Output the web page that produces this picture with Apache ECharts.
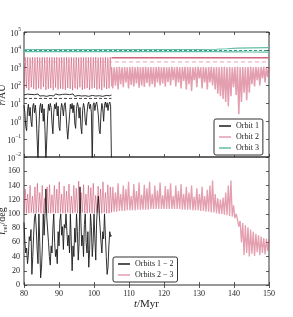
<!DOCTYPE html>
<html><head><meta charset="utf-8">
<script src="https://cdn.jsdelivr.net/npm/echarts@6/dist/echarts.min.js"></script>
<style>html,body{margin:0;padding:0;background:#fff}#c{width:293px;height:317px}</style>
</head><body><div id="c"></div>
<script>
// ---------------- DATA ----------------
const xTicks = [80, 90, 100, 110, 120, 130, 140, 150];
const iTicks = [0, 20, 40, 60, 80, 100, 120, 140, 160];

// Orbit 1 (black), 80–105 Myr
const o1PeriT0 = 80, o1PeriDt = 0.25;
const o1Peri = [8,3,0.5,0.3,4,9,2,6,1,0.5,
 7,10,3,8,2,0.1,0.006,0.4,6,10,
 3,9,1,5,0.3,0.005,0.006,2,9,4,
 10,6,0.8,0.2,3,9,5,11,2,7,
 0.5,0.3,4,10,6,2,8,11,3,0.4,
 0.1,0.08,2,9,5,10,3,8,0.8,0.4,
 5,11,7,1.5,6,0.5,0.2,4,10,6,
 1,0.6,3,9,12,5,9,3,0.004,8,
 11,4,9,12,6,2,0.3,0.2,3,10,
 5,1,8,12,6,11,4,9,12,7,
 0.004];
const o1ApoT0 = 80, o1ApoDt = 0.5;
const o1Apo = [30,26,33,27,32,25,31,28,34,26, 30,27,33,25,31,28,32,26,34,27,
 30,25,32,28,33,26,31,27,34,25, 30,28,32,26,33,27,31,25,32,28,
 34,26,30,27,33,25,31,28,32,27, 30];
const o1SemiT = [80, 105];
const o1Semi = [19, 19];

// Orbit 2 (pink)
const earlyT0 = 80, earlyT1 = 105, earlyCycles = 36;
const o2EarlyLow = [60,75,55,80,65,58,70,62,85,57, 66,72,55,78,60,68,63,58,74,66,
 55,70,62,80,58,65,72,57,68,75, 60,66,56,78,64,70,90];
const o2EarlyHigh = [3800,3900,3750,3850,3800,3900,3700,3850,3800,3900,
 3750,3850,3800,3900,3700,3850,3800,3900,3750,3850,
 3800,3900,3700,3850,3800,3900,3750,3850,3800,3900,
 3700,3850,3800,3900,3750,3850];
const lateT0 = 105, lateT1 = 150, lateCycles = 60;
const o2LateHigh = [1100,1050,1080,1130,1060,1100,1040,1090,1120,1070,
 1110,1040,1080,1120,1050,1100,1060,1090,1130,1070,
 1100,1050,1070,1120,1060,1110,1040,1090,1120,1080,
 1100,1060,1080,1110,1050,1100,1040,1090,1120,1070,
 1090,1050,1080,1120,1060,1100,1040,1080,1120,1070,
 1100,1060,1080,1130,1060,1100,1050,1090,1120,1070, 1100];
const o2LateLow = [70,100,60,120,80,150,70,110,90,130,
 75,100,85,140,90,120,80,150,100,130,
 90,160,100,200,90,150,70,180,60,120,
 50,200,80,250,70,150,60,150,100,60,
 35,25,18,12,7,25,80,30,2.5,12,
 40,15,40,120,90,200,100,250,150,300];
const o2ApoT = [105, 150];
const o2Apo = [3600, 3600];
const o2SemiT = [80, 150];
const o2Semi = [2100, 2100];

// Orbit 3 (teal)
const o3T = [80, 130, 135, 138, 141, 145, 150];
const o3Upper = [10500, 10500, 10800, 11500, 12500, 13000, 13500];
const o3Lower = [8000, 8000, 7900, 7800, 7700, 7600, 7500];
const o3Semi = [9200, 9200, 9200, 9200, 9200, 9200, 9200];

// Bottom: relative inclinations
const i12T0 = 80, i12Dt = 0.25;
const i12 = [88,60,45,52,30,42,68,62,78,15,
 40,70,95,100,80,50,30,100,60,10,
 25,55,100,70,100,135,95,96,60,40,
 28,55,45,80,100,60,40,50,30,75,
 55,90,100,70,82,50,85,80,100,75,
 55,70,45,100,62,20,55,40,80,60,
 100,75,35,60,138,90,55,70,40,85,
 100,60,45,75,25,50,100,82,40,60,
 100,65,35,90,110,125,100,80,60,45,
 75,65,100,70,40,15,25,55,75,68,
 70];
const i23EarlyLow = [102,101,101,102,101,101,102,101,101,102, 101,101,102,101,101,102,101,101,102,101,
 101,102,101,101,102,101,101,102,101,101, 102,101,101,102,101,101,103];
const i23EarlyPeak = [135,128,140,125,138,143,130,140,122,138, 141,127,140,135,145,128,139,132,142,125,
 140,136,146,130,141,128,140,137,143,126, 139,135,145,130,141,138];
const i23LateBase = [102,103,103,104,104,104,105,105,105,105,
 106,106,106,106,106,107,107,107,107,107,
 107,107,107,107,107,107,107,106,106,106,
 106,105,105,105,104,104,103,103,102,102,
 101,100,100,99,98,97,96,94,92,90,
 87,84,81,78,75,72,70,68,66,65, 64];
const i23LateSpike = [138,130,143,128,140,135,145,125,142,132,
 144,127,141,136,145,128,140,133,144,126,
 139,135,143,125,140,132,142,128,138,130,
 140,124,136,128,138,125,134,140,147,128,
 122,120,123,130,140,147,112,100,82,60,
 42,45,40,44,41,46,42,45,43,48];

// ---------------- BUILD ----------------
function grid(t0, dt, vals) { return vals.map((v, i) => [t0 + i * dt, v]); }
function pairs(ts, vals) { return vals.map((v, i) => [ts[i], v]); }
function zigzag(t0, t1, n, base, spikes) {
  const p = (t1 - t0) / n, out = [];
  for (let k = 0; k < base.length; k++) {
    out.push([t0 + k * p, base[k]]);
    if (k < spikes.length) out.push([t0 + (k + 0.5) * p, spikes[k]]);
  }
  return out;
}

const BLACK = '#1b1b1b';
const PINK = 'rgba(204,78,110,0.55)';
const PINK_SOLID = '#d3637f';
const PINK_DASH = '#eba2b3';
const TEAL = '#62bea7';
const TEAL_DARK = '#2f9c82';
const FONT = 'Liberation Serif';

function line(name, data, color, width, xi, yi, extra) {
  return Object.assign({
    name, type: 'line', data, showSymbol: false, symbol: 'none', xAxisIndex: xi, yAxisIndex: yi,
    lineStyle: { color, width }, itemStyle: { color }, clip: true, animation: false, silent: true
  }, extra || {});
}

const sup = v => { const e = Math.round(Math.log10(v)); return '{b|10}{s|' + (e < 0 ? '\u2212' + (-e) : e) + '}'; };
const labelBase = { color: '#222', fontSize: 8, fontFamily: FONT };
const supRich = { b: { fontSize: 8, fontFamily: FONT, color: '#222', lineHeight: 11, verticalAlign: 'bottom' },
  s: { fontSize: 5.5, fontFamily: FONT, color: '#222', lineHeight: 11, verticalAlign: 'top' } };
const tick = { show: true, inside: true, length: 3, lineStyle: { color: '#333', width: 0.8 } };

const gTop = { left: 24, top: 32, width: 245, height: 125, show: true, borderColor: '#333', borderWidth: 1,
  containLabel: false, outerBoundsMode: 'none' };
const gBot = { left: 24, top: 157, width: 245, height: 128, show: true, borderColor: '#333', borderWidth: 1,
  containLabel: false, outerBoundsMode: 'none' };

const xBase = (gi, pos, showLabel) => ({
  type: 'value', gridIndex: gi, position: pos, min: 80, max: 150, interval: 10,
  axisLine: { show: false }, axisTick: tick, splitLine: { show: false },
  axisLabel: Object.assign({ show: showLabel, margin: 5 }, labelBase)
});

const nameRich = {
  i: { fontSize: 10, fontStyle: 'italic', fontFamily: FONT, fill: '#222', color: '#222', verticalAlign: 'top', lineHeight: 12 },
  s: { fontSize: 7, fontFamily: FONT, fill: '#222', color: '#222', verticalAlign: 'bottom', lineHeight: 12 },
  n: { fontSize: 10, fontFamily: FONT, fill: '#222', color: '#222', verticalAlign: 'top', lineHeight: 12 }
};

const option = {
  animation: false,
  backgroundColor: '#fff',
  grid: [gTop, gBot],
  graphic: [
    { type: 'text', x: 3, y: 95, rotation: Math.PI / 2, silent: true,
      style: { text: '{i|r}{n|/AU}', rich: nameRich, align: 'center', verticalAlign: 'middle' } },
    { type: 'text', x: 3, y: 221, rotation: Math.PI / 2, silent: true,
      style: { text: '{i|i}{s|rel}{n|/deg}', rich: nameRich, align: 'center', verticalAlign: 'middle' } }
  ],
  xAxis: [
    xBase(0, 'bottom', false),
    xBase(0, 'top', false),
    Object.assign(xBase(1, 'bottom', true), {
      name: '{i|t}{n|/Myr}', nameLocation: 'middle', nameGap: 10,
      nameTextStyle: { rich: { i: { fontSize: 11, fontStyle: 'italic', fontFamily: FONT, color: '#222' },
        n: { fontSize: 11, fontFamily: FONT, color: '#222' } } }
    }),
    xBase(1, 'top', false)
  ],
  yAxis: [
    { type: 'log', logBase: 10, gridIndex: 0, position: 'left', min: 0.01, max: 100000, interval: 1,
      axisLine: { show: false }, axisTick: tick, splitLine: { show: false }, minorTick: { show: false },
      axisLabel: Object.assign({ formatter: sup, rich: supRich, margin: 3 }, labelBase) },
    { type: 'log', logBase: 10, gridIndex: 0, position: 'right', min: 0.01, max: 100000, interval: 1,
      axisLine: { show: false }, axisTick: tick, splitLine: { show: false }, axisLabel: { show: false } },
    { type: 'value', gridIndex: 1, position: 'left', min: 0, max: 180, interval: 20,
      axisLine: { show: false }, axisTick: tick, splitLine: { show: false },
      axisLabel: Object.assign({ margin: 4, formatter: v => (iTicks.indexOf(v) >= 0 ? String(v) : '') }, labelBase) },
    { type: 'value', gridIndex: 1, position: 'right', min: 0, max: 180, interval: 20,
      axisLine: { show: false }, axisTick: tick, splitLine: { show: false }, axisLabel: { show: false } }
  ],
  legend: [
    { data: ['Orbit 1', 'Orbit 2', 'Orbit 3'], left: 214, top: 119, orient: 'vertical', icon: 'rect',
      itemWidth: 12, itemHeight: 1.5, itemGap: 3, padding: [3, 4, 3, 5],
      borderColor: '#333', borderWidth: 1, borderRadius: 2, backgroundColor: '#fff',
      textStyle: { fontSize: 8, fontFamily: FONT, color: '#222' }, selectedMode: false },
    { data: ['Orbits 1 \u2212 2', 'Orbits 2 \u2212 3'], left: 113, top: 257, orient: 'vertical', icon: 'rect',
      itemWidth: 12, itemHeight: 1.5, itemGap: 3, padding: [3, 4, 3, 5],
      borderColor: '#333', borderWidth: 1, borderRadius: 2, backgroundColor: '#fff',
      textStyle: { fontSize: 8, fontFamily: FONT, color: '#222' }, selectedMode: false }
  ],
  series: [
    // top panel
    line('Orbit 3', pairs(o3T, o3Upper), TEAL, 1.2, 0, 0),
    line('o3 lower', pairs(o3T, o3Lower), TEAL, 1.2, 0, 0),
    line('o3 semi', pairs(o3T, o3Semi), TEAL_DARK, 1.2, 0, 0, { lineStyle: { color: TEAL_DARK, width: 1.2, type: [3, 2] } }),
    line('Orbit 2', zigzag(earlyT0, earlyT1, earlyCycles, o2EarlyLow, o2EarlyHigh), PINK, 1, 0, 0),
    line('o2 late', zigzag(lateT0, lateT1, lateCycles, o2LateHigh, o2LateLow), PINK, 1.5, 0, 0),
    line('o2 apo', pairs(o2ApoT, o2Apo), PINK_SOLID, 1.5, 0, 0),
    line('o2 semi', pairs(o2SemiT, o2Semi), PINK_DASH, 1, 0, 0, { lineStyle: { color: PINK_DASH, width: 1, type: [4, 3] } }),
    line('Orbit 1', grid(o1PeriT0, o1PeriDt, o1Peri), BLACK, 0.9, 0, 0),
    line('o1 apo', grid(o1ApoT0, o1ApoDt, o1Apo), BLACK, 0.9, 0, 0),
    line('o1 semi', pairs(o1SemiT, o1Semi), BLACK, 0.9, 0, 0, { lineStyle: { color: '#333', width: 0.9, type: [3, 2] } }),
    // bottom panel
    line('Orbits 2 \u2212 3', zigzag(earlyT0, earlyT1, earlyCycles, i23EarlyLow, i23EarlyPeak), PINK, 1, 2, 2),
    line('i23 late', zigzag(lateT0, lateT1, lateCycles, i23LateBase, i23LateSpike), PINK, 1.3, 2, 2),
    line('Orbits 1 \u2212 2', grid(i12T0, i12Dt, i12), BLACK, 0.9, 2, 2)
  ]
};
const chart = echarts.init(document.getElementById('c'), null, { renderer: 'canvas' });
chart.setOption(option);
</script></body></html>
